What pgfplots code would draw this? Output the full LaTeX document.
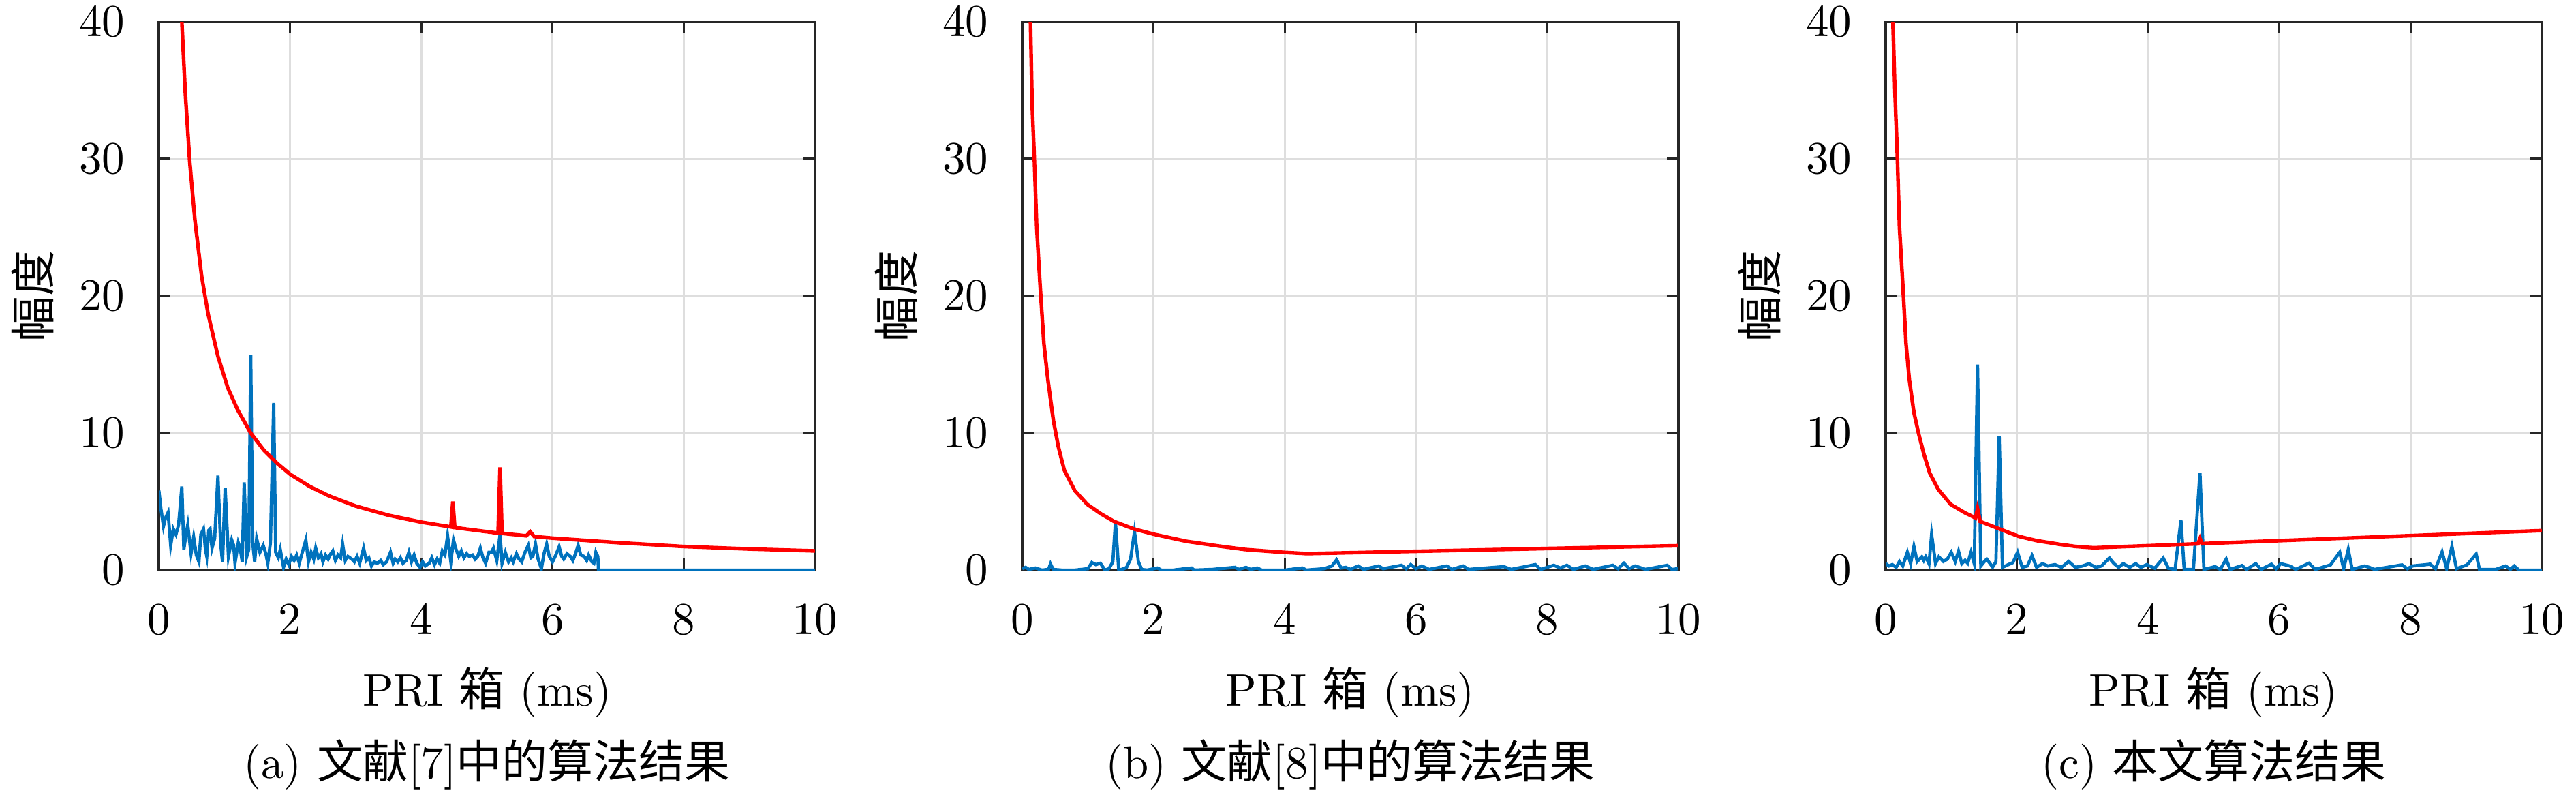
\documentclass[border=0pt]{standalone}
\usepackage{fontspec}
\newfontfamily\cjk{Noto Sans CJK SC}
\usepackage{pgfplots}
\pgfplotsset{compat=1.18}
\definecolor{mblue}{RGB}{0,114,189}
\definecolor{mred}{RGB}{255,0,0}
\definecolor{mgrid}{RGB}{222,222,222}
\pgfplotsset{panel/.style={
  scale only axis, width=143.7pt, height=120pt, anchor=south west,
  xmin=0, xmax=10, ymin=0, ymax=40,
  xtick={0,2,4,6,8,10}, ytick={0,10,20,30,40},
  grid=major, major grid style={mgrid, line width=0.45pt},
  tick align=inside, major tick length=2.5pt,
  axis line style={black!85, line width=0.5pt},
  every tick/.style={black!85, line width=0.5pt},
  xticklabel style={yshift=-4.1pt},
  yticklabel style={xshift=-3.9pt},
  xlabel={PRI {\cjk 箱} (ms)},
  ylabel={\cjk 幅度},
  xlabel style={at={(axis description cs:0.5,-0.2475)}, anchor=base},
  ylabel style={at={(axis description cs:-0.192,0.5)}, anchor=center},
  every axis title shift=0pt,
  title style={at={(axis description cs:0.5,-0.38)}, anchor=base},
  blueline/.style={mblue, line width=0.7pt},
  redline/.style={mred, line width=0.8pt},
}}
\begin{document}
\begin{tikzpicture}
\useasboundingbox (0,0) rectangle (564.2pt,173.9pt);
% ---------------- (a)
\begin{axis}[panel, at={(34.8pt,49.1pt)}, title={(a) {\cjk 文献}[7]{\cjk 中的算法结果}}]
\addplot[blueline] coordinates {
(0,5.8)(0.03,4.5)(0.07,3.2)(0.1,3.8)(0.14,4.2)(0.18,1.8)(0.22,3.0)(0.26,2.6)(0.3,3.3)(0.35,6.1)
(0.38,1.5)(0.41,2.5)(0.44,3.3)(0.49,1.2)(0.53,2.4)(0.57,1.1)(0.61,0.6)(0.64,2.6)(0.68,3.0)(0.71,1.5)
(0.73,1.0)(0.76,2.9)(0.78,3.0)(0.81,1.6)(0.85,2.3)(0.9,6.9)(0.94,2.0)(0.97,0.6)(1.01,6.0)(1.06,1.0)
(1.11,2.2)(1.14,1.8)(1.16,0.5)(1.21,2.0)(1.24,1.6)(1.27,0.6)(1.30,6.4)(1.34,1.0)(1.37,1.5)(1.40,15.7)
(1.43,2.0)(1.46,0.6)(1.49,2.3)(1.54,1.3)(1.59,1.8)(1.63,1.2)(1.66,0.5)(1.70,2.0)(1.75,12.2)(1.78,1.3)
(1.82,0.9)(1.85,1.5)(1.90,0.2)(1.94,0.8)(1.98,0.4)(2.02,1.0)(2.06,0.7)(2.1,1.1)(2.14,0.5)(2.18,1.2)
(2.24,2.2)(2.28,0.6)(2.32,1.3)(2.36,0.8)(2.39,1.6)(2.43,0.9)(2.47,1.2)(2.5,0.6)(2.54,1.1)(2.58,0.8)
(2.62,1.2)(2.65,1.4)(2.69,0.7)(2.73,1.1)(2.77,0.9)(2.8,1.9)(2.84,0.7)(2.88,1.0)(2.94,0.8)(2.98,0.6)
(3.02,1.0)(3.06,0.5)(3.12,1.6)(3.16,0.7)(3.2,0.9)(3.24,0.3)(3.28,0.6)(3.33,0.5)(3.38,0.7)(3.42,0.4)
(3.47,0.6)(3.53,1.3)(3.57,0.5)(3.6,0.8)(3.64,0.6)(3.68,0.9)(3.72,0.5)(3.77,0.7)(3.81,1.3)(3.85,0.6)
(3.89,1.1)(3.93,0.5)(3.98,0.2)(4.02,0.6)(4.06,0.3)(4.12,0.5)(4.16,0.9)(4.2,0.4)(4.24,0.8)(4.28,0.5)
(4.32,1.4)(4.36,1.1)(4.40,2.5)(4.45,0.6)(4.49,2.2)(4.53,1.5)(4.57,1.0)(4.61,1.4)(4.65,0.9)(4.69,1.2)
(4.73,1.0)(4.78,1.1)(4.82,0.8)(4.86,1.0)(4.9,1.6)(4.94,0.9)(4.98,0.5)(5.03,1.3)(5.07,1.3)(5.1,1.6)
(5.15,0.7)(5.2,2.6)(5.23,0.5)(5.28,1.3)(5.33,0.6)(5.37,0.9)(5.4,0.6)(5.45,1.2)(5.49,0.8)(5.53,0.6)
(5.58,1.3)(5.63,1.8)(5.67,0.9)(5.7,1.0)(5.74,1.9)(5.78,0.8)(5.83,0.1)(5.87,1.2)(5.91,1.9)(5.95,1.0)
(6.0,0.6)(6.05,1.1)(6.1,1.7)(6.14,1.0)(6.17,0.8)(6.22,1.2)(6.27,1.0)(6.31,0.7)(6.35,1.2)(6.39,1.8)
(6.43,1.1)(6.48,1.0)(6.52,0.7)(6.55,1.1)(6.6,0.6)(6.63,0.5)(6.66,1.3)(6.69,1.0)(6.70,0)(10,0)
};
\addplot[redline] coordinates {
(0.33,42.4)(0.35,40)(0.4,35)(0.47,29.8)(0.55,25.5)(0.65,21.5)(0.75,18.7)(0.9,15.6)(1.05,13.3)
(1.2,11.7)(1.4,10)(1.6,8.75)(1.8,7.8)(2.0,7.0)(2.3,6.1)(2.6,5.4)(3.0,4.67)(3.5,4.0)(4.0,3.5)
(4.45,3.15)(4.48,5.0)(4.51,3.1)(5.0,2.8)(5.17,2.7)(5.2,7.5)(5.23,2.68)(5.6,2.5)(5.66,2.8)(5.72,2.45)
(6,2.33)(7,2.0)(8,1.72)(9,1.54)(10,1.4)
};
\end{axis}
% ---------------- (b)
\begin{axis}[panel, at={(223.9pt,49.1pt)}, title={(b) {\cjk 文献}[8]{\cjk 中的算法结果}}]
\addplot[blueline] coordinates {
(0,0.1)(0.05,0.2)(0.1,0.05)(0.2,0.15)(0.3,0)(0.4,0.05)(0.43,0.45)(0.47,0.05)(0.6,0)(0.8,0)
(1.0,0.1)(1.06,0.55)(1.12,0.4)(1.19,0.5)(1.26,0)(1.32,0.1)(1.38,0.6)(1.42,3.5)(1.47,0)(1.55,0.1)
(1.59,0.2)(1.65,0.8)(1.71,2.8)(1.77,0.6)(1.82,0.05)(1.9,0)(2.06,0.15)(2.12,0)(2.3,0)(2.58,0.15)
(2.62,0)(2.9,0.05)(3.24,0.2)(3.3,0.05)(3.41,0.2)(3.48,0.05)(3.58,0.15)(3.65,0)(4.0,0)(4.27,0.15)
(4.33,0)(4.6,0.1)(4.72,0.3)(4.79,0.75)(4.86,0.15)(4.93,0.2)(5.0,0.05)(5.12,0.3)(5.2,0.05)(5.43,0.3)
(5.5,0.1)(5.78,0.35)(5.85,0.1)(5.92,0.4)(6.0,0.1)(6.09,0.3)(6.2,0.05)(6.47,0.3)(6.55,0.05)(6.72,0.3)
(6.8,0.05)(7.34,0.25)(7.45,0.05)(7.82,0.4)(7.9,0.05)(8.1,0.35)(8.2,0.15)(8.3,0.35)(8.4,0.05)(8.58,0.3)
(8.7,0.05)(9.0,0.35)(9.08,0.1)(9.17,0.5)(9.25,0.1)(9.34,0.3)(9.5,0.05)(9.83,0.35)(9.9,0.05)(10,0.1)
};
\addplot[redline] coordinates {
(0.115,42)(0.125,40)(0.15,34)(0.18,30.5)(0.22,25)(0.27,20.9)(0.33,16.5)(0.39,13.9)(0.475,10.9)
(0.55,9)(0.64,7.3)(0.8,5.8)(0.99,4.8)(1.2,4.1)(1.4,3.55)(1.7,3.0)(2.02,2.6)(2.5,2.1)(3.0,1.75)
(3.4,1.5)(3.9,1.32)(4.34,1.2)(10,1.78)
};
\end{axis}
% ---------------- (c)
\begin{axis}[panel, at={(413.0pt,49.1pt)}, title={(c) {\cjk 本文算法结果}}]
\addplot[blueline] coordinates {
(0,0.47)(0.05,0.3)(0.1,0.4)(0.16,0.2)(0.21,0.63)(0.26,0.3)(0.33,1.3)(0.38,0.47)(0.43,1.72)(0.48,0.63)
(0.55,0.97)(0.58,0.7)(0.61,0.97)(0.66,0.47)(0.70,2.6)(0.76,0.47)(0.81,0.97)(0.88,0.63)(0.94,0.8)(1.0,1.3)
(1.06,0.63)(1.11,1.38)(1.16,0.47)(1.21,0.72)(1.25,0.5)(1.30,1.3)(1.35,0.47)(1.40,15.0)(1.45,0.3)(1.50,0.6)
(1.54,0.8)(1.63,0.22)(1.68,0.6)(1.73,9.8)(1.78,0.2)(1.87,0.4)(1.94,0.55)(2.01,1.3)(2.08,0.2)(2.16,0.3)
(2.23,1.05)(2.3,0.2)(2.39,0.47)(2.47,0.3)(2.58,0.4)(2.68,0.2)(2.79,0.63)(2.89,0.2)(3.0,0.3)(3.1,0.47)
(3.2,0.2)(3.29,0.3)(3.41,0.88)(3.48,0.47)(3.55,0.2)(3.62,0.47)(3.72,0.2)(3.81,0.47)(3.89,0.2)(3.98,0.4)
(4.1,0.13)(4.23,0.88)(4.31,0.13)(4.41,0.05)(4.5,3.65)(4.55,0.05)(4.69,0.05)(4.79,7.1)(4.85,0.05)(5.02,0.25)
(5.1,0.05)(5.19,0.8)(5.25,0.05)(5.43,0.33)(5.5,0.05)(5.64,0.47)(5.72,0.05)(5.88,0.43)(5.95,0.1)(6.02,0.47)
(6.16,0.3)(6.25,0.05)(6.45,0.5)(6.55,0.05)(6.78,0.38)(6.92,1.3)(6.98,0.1)(7.05,1.5)(7.11,0.05)(7.3,0.3)
(7.37,0.2)(7.45,0.05)(7.87,0.38)(7.95,0.1)(8.03,0.3)(8.2,0.38)(8.3,0.43)(8.38,0.1)(8.48,1.33)(8.55,0.1)
(8.63,1.72)(8.7,0.1)(8.86,0.38)(9.0,1.17)(9.05,0.05)(9.3,0.05)(9.45,0.3)(9.52,0.05)(9.58,0.3)(9.65,0)(10,0)
};
\addplot[redline] coordinates {
(0.1,43)(0.11,40)(0.14,35)(0.175,30.5)(0.21,25)(0.26,20.9)(0.31,16.5)(0.36,13.9)(0.43,11.5)(0.5,10)
(0.58,8.5)(0.67,7.1)(0.8,5.9)(0.99,4.8)(1.2,4.2)(1.37,3.8)(1.40,4.47)(1.44,3.55)(1.71,3.05)(2.02,2.47)
(2.3,2.15)(2.65,1.88)(2.9,1.72)(3.17,1.63)(4.76,1.92)(4.79,2.3)(4.82,1.93)(10,2.88)
};
\end{axis}
\end{tikzpicture}
\end{document}
